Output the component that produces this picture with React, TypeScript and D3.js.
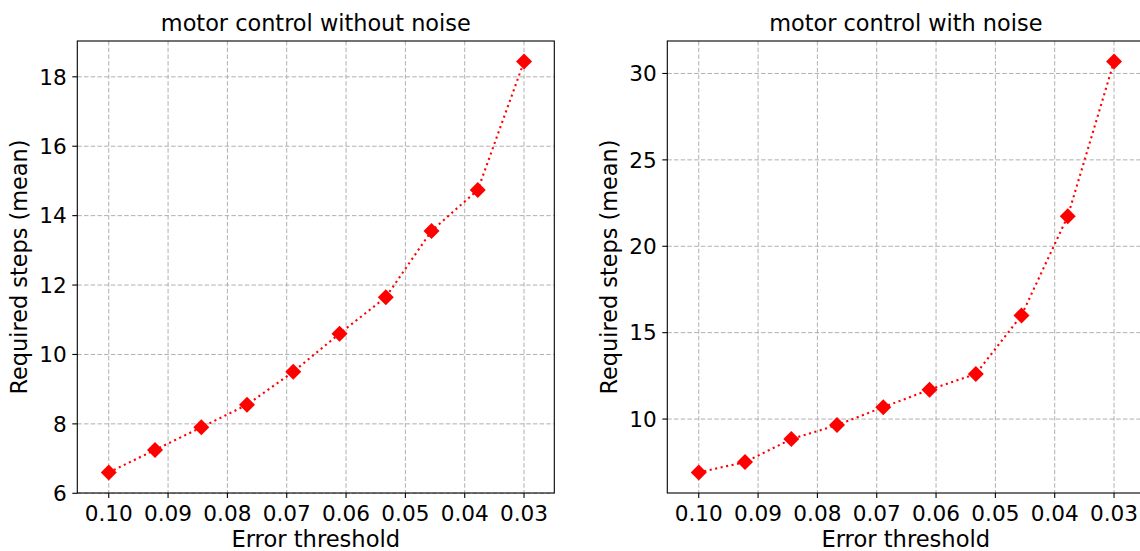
import React from "react";
import * as d3 from "d3";

const thresholds = [0.1, 0.0922, 0.0844, 0.0767, 0.0689, 0.0611, 0.0533, 0.0456, 0.0378, 0.03];
const stepsNoNoise = [6.6, 7.25, 7.9, 8.55, 9.5, 10.6, 11.65, 13.56, 14.74, 18.44];
const stepsNoise = [6.91, 7.51, 8.84, 9.65, 10.69, 11.7, 12.61, 16.0, 21.74, 30.69];
const xTicks = [0.1, 0.09, 0.08, 0.07, 0.06, 0.05, 0.04, 0.03];
const yTicksLeft = [6, 8, 10, 12, 14, 16, 18];
const yTicksRight = [10, 15, 20, 25, 30];
const titles = ["motor control without noise", "motor control with noise"];
const xLabel = "Error threshold";
const yLabel = "Required steps (mean)";

const FONT = "DejaVu Sans, sans-serif";
const W = 1140;
const H = 551;
const TOP = 41;
const BOTTOM = 493;
const PW = 477;

type PanelProps = {
  left: number;
  values: number[];
  yTicks: number[];
  title: string;
};

function Panel({ left, values, yTicks, title }: PanelProps) {
  const x = d3.scaleLinear().domain([0.1053, 0.0249]).range([left, left + PW]);
  const minV = d3.min(values) as number;
  const maxV = d3.max(values) as number;
  const pad = (maxV - minV) * 0.05;
  const y = d3.scaleLinear().domain([minV - pad, maxV + pad]).range([BOTTOM, TOP]);
  const line = d3
    .line<number>()
    .x((_, i) => x(thresholds[i]))
    .y((d) => y(d));
  const diamond = d3.symbol().type(d3.symbolSquare).size(128)();
  const cx = left + PW / 2;
  return (
    <g>
      {xTicks.map((t) => (
        <line
          key={"gx" + t}
          x1={x(t)}
          x2={x(t)}
          y1={TOP}
          y2={BOTTOM}
          stroke="#b0b0b0"
          strokeWidth={1}
          strokeDasharray="4.5,2.2"
        />
      ))}
      {yTicks.map((t) => (
        <line
          key={"gy" + t}
          x1={left}
          x2={left + PW}
          y1={y(t)}
          y2={y(t)}
          stroke="#b0b0b0"
          strokeWidth={1}
          strokeDasharray="4.5,2.2"
        />
      ))}
      <path
        d={line(values) as string}
        fill="none"
        stroke="#ff0000"
        strokeWidth={2.1}
        strokeDasharray="2.1,3.5"
      />
      {values.map((v, i) => (
        <path
          key={"m" + i}
          d={diamond as string}
          transform={`translate(${x(thresholds[i])},${y(v)}) rotate(45)`}
          fill="#ff0000"
        />
      ))}
      <rect x={left} y={TOP} width={PW} height={BOTTOM - TOP} fill="none" stroke="#000" strokeWidth={1.1} />
      {xTicks.map((t) => (
        <g key={"tx" + t}>
          <line x1={x(t)} x2={x(t)} y1={BOTTOM} y2={BOTTOM + 5} stroke="#000" strokeWidth={1.1} />
          <text x={x(t)} y={521} textAnchor="middle" fontSize={21.6} fontFamily={FONT} fill="#000">
            {d3.format(".2f")(t)}
          </text>
        </g>
      ))}
      {yTicks.map((t) => (
        <g key={"ty" + t}>
          <line x1={left - 5} x2={left} y1={y(t)} y2={y(t)} stroke="#000" strokeWidth={1.1} />
          <text
            x={left - 10.5}
            y={y(t)}
            dy="0.36em"
            textAnchor="end"
            fontSize={21.6}
            fontFamily={FONT}
            fill="#000"
          >
            {t}
          </text>
        </g>
      ))}
      <text x={cx} y={31} textAnchor="middle" fontSize={22.4} fontFamily={FONT} fill="#000">
        {title}
      </text>
      <text x={cx} y={547} textAnchor="middle" fontSize={22.6} fontFamily={FONT} fill="#000">
        {xLabel}
      </text>
      <text
        transform={`translate(${left - 50.5},${(TOP + BOTTOM) / 2}) rotate(-90)`}
        textAnchor="middle"
        fontSize={22.4}
        fontFamily={FONT}
        fill="#000"
      >
        {yLabel}
      </text>
    </g>
  );
}

export default function App() {
  return (
    <svg
      width={W}
      height={H}
      style={{ position: "absolute", left: 0, top: 0, background: "#fff" }}
    >
      <rect x={0} y={0} width={W} height={H} fill="#fff" />
      <Panel left={77.3} values={stepsNoNoise} yTicks={yTicksLeft} title={titles[0]} />
      <Panel left={667.3} values={stepsNoise} yTicks={yTicksRight} title={titles[1]} />
    </svg>
  );
}
